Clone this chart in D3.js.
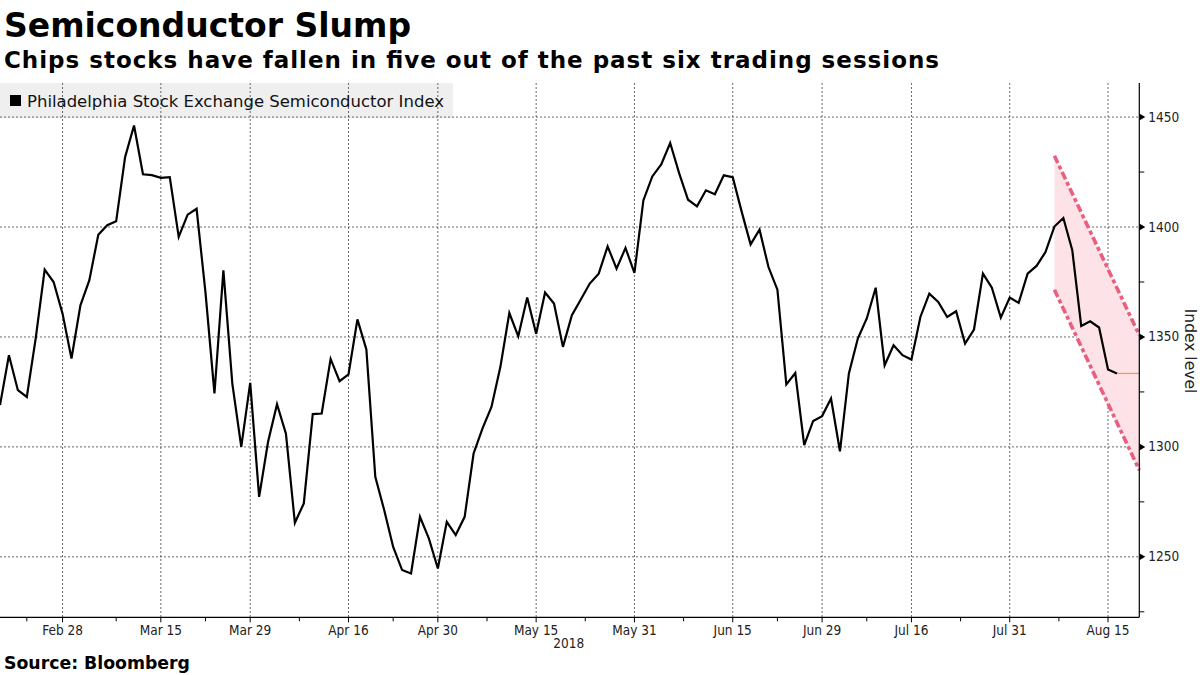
<!DOCTYPE html>
<html><head><meta charset="utf-8">
<script src="https://cdn.jsdelivr.net/npm/d3@7"></script>
<style>body{margin:0;background:#fff}svg{display:block}</style></head><body>
<svg id="c" width="1200" height="675"></svg>
<script>
const tradingDates = [
"2018-02-16","2018-02-20","2018-02-21","2018-02-22","2018-02-23","2018-02-26","2018-02-27","2018-02-28",
"2018-03-01","2018-03-02","2018-03-05","2018-03-06","2018-03-07","2018-03-08","2018-03-09","2018-03-12","2018-03-13","2018-03-14","2018-03-15","2018-03-16","2018-03-19","2018-03-20","2018-03-21","2018-03-22","2018-03-23","2018-03-26","2018-03-27","2018-03-28","2018-03-29",
"2018-04-02","2018-04-03","2018-04-04","2018-04-05","2018-04-06","2018-04-09","2018-04-10","2018-04-11","2018-04-12","2018-04-13","2018-04-16","2018-04-17","2018-04-18","2018-04-19","2018-04-20","2018-04-23","2018-04-24","2018-04-25","2018-04-26","2018-04-27","2018-04-30",
"2018-05-01","2018-05-02","2018-05-03","2018-05-04","2018-05-07","2018-05-08","2018-05-09","2018-05-10","2018-05-11","2018-05-14","2018-05-15","2018-05-16","2018-05-17","2018-05-18","2018-05-21","2018-05-22","2018-05-23","2018-05-24","2018-05-25","2018-05-29","2018-05-30","2018-05-31",
"2018-06-01","2018-06-04","2018-06-05","2018-06-06","2018-06-07","2018-06-08","2018-06-11","2018-06-12","2018-06-13","2018-06-14","2018-06-15","2018-06-18","2018-06-19","2018-06-20","2018-06-21","2018-06-22","2018-06-25","2018-06-26","2018-06-27","2018-06-28","2018-06-29",
"2018-07-02","2018-07-03","2018-07-05","2018-07-06","2018-07-09","2018-07-10","2018-07-11","2018-07-12","2018-07-13","2018-07-16","2018-07-17","2018-07-18","2018-07-19","2018-07-20","2018-07-23","2018-07-24","2018-07-25","2018-07-26","2018-07-27","2018-07-30","2018-07-31",
"2018-08-01","2018-08-02","2018-08-03","2018-08-06","2018-08-07","2018-08-08","2018-08-09","2018-08-10","2018-08-13","2018-08-14","2018-08-15","2018-08-16"
];
const indexValues = [
1319,1341.7,1325.8,1322.7,1349.5,1380.6,1375,1360.6,
1340.2,1364.4,1375.8,1396.5,1400.8,1402.6,1431.8,1446.2,1424,1423.6,1422.4,1422.7,1395.5,1405.6,1408.3,1370,1324.3,1380.3,1328.8,1300,1329.1,
1277.3,1302.3,1319.4,1306,1265.5,1274.3,1314.9,1315.2,1340,1329.9,1333,1358,1344.3,1286.4,1271.2,1254.5,1244,1242.4,1268.2,1258.3,1244.7,
1265.9,1259.9,1268.2,1297,1308.4,1318.2,1336.4,1360.9,1350.3,1367.9,1351.5,1370.2,1365.2,1345.5,1359.9,1367,1374.3,1378.8,1391.2,1381.1,1390.5,1379.1,
1412.1,1423,1428.5,1438.2,1424.5,1412.4,1409.4,1416.7,1414.9,1423.5,1422.7,1407,1392.1,1398.8,1381.8,1371.5,1328.4,1333.6,1300.8,1311.8,1314,
1322,1298,1333.4,1349.3,1358.4,1372.4,1337.1,1346.2,1341.7,1339.7,1359.1,1369.7,1365.9,1359.1,1361.7,1347,1353.4,1378.8,1372.4,1358.8,1367.9,
1365.5,1378.8,1382.3,1388.6,1400.2,1404.1,1389.4,1355,1357.1,1354.3,1335.2,1333.4
];
const tickDates = ["2018-02-28","2018-03-15","2018-03-29","2018-04-16","2018-04-30","2018-05-15","2018-05-31","2018-06-15","2018-06-29","2018-07-16","2018-07-31","2018-08-15"];
const tickLabels = ["Feb 28","Mar 15","Mar 29","Apr 16","Apr 30","May 15","May 31","Jun 15","Jun 29","Jul 16","Jul 31","Aug 15"];
const minorTickSessions = [3,13,23,33.5,44,54.5,65.5,76.5,87,97,107.5,118.5];
const yTicks = [1250,1300,1350,1400,1450];
const yMinorTicks = [1225,1275,1325,1375,1425];
const channelStartDate = "2018-08-07";
const channelUpper = [1432.4, 1350.8];
const channelLower = [1371.5, 1289.4];
const seriesName = "Philadelphia Stock Exchange Semiconductor Index";

const svg = d3.select("#c");
const L = 0, R = 1139.3, T = 83, B = 617.3;
const xMax = 127.5;
const x = d3.scaleLinear().domain([0, xMax]).range([L, R]);
const y = d3.scaleLinear().domain([1222.5, 1465.5]).range([B, T]);
const idx = d => tradingDates.indexOf(d);
const labFont = "DejaVu Sans Condensed, DejaVu Sans";

// Title
svg.append("text").attr("x",4).attr("y",37).attr("font-family","DejaVu Sans").attr("font-weight","bold")
  .attr("font-size",33).attr("fill","#000").text("Semiconductor Slump");
svg.append("text").attr("x",4).attr("y",68).attr("font-family","DejaVu Sans").attr("font-weight","bold")
  .attr("font-size",23).attr("textLength",935).attr("lengthAdjust","spacing").attr("fill","#000")
  .text("Chips stocks have fallen in five out of the past six trading sessions");

// Legend box
svg.append("rect").attr("x",0).attr("y",83).attr("width",453).attr("height",35).attr("fill","#efefef");

// Grid
const grid = svg.append("g").attr("stroke","#444").attr("stroke-width",0.8).attr("stroke-dasharray","2,2");
grid.selectAll(".h").data(yTicks).join("line").attr("x1",L).attr("x2",R).attr("y1",d=>y(d)).attr("y2",d=>y(d));
grid.selectAll(".v").data(tickDates).join("line").attr("x1",d=>x(idx(d))).attr("x2",d=>x(idx(d))).attr("y1",T).attr("y2",B);

// Legend text
svg.append("rect").attr("x",10).attr("y",95).attr("width",11).attr("height",11).attr("fill","#000");
svg.append("text").attr("x",27).attr("y",107).attr("font-family","DejaVu Sans").attr("font-size",16.5)
  .attr("textLength",417).attr("lengthAdjust","spacingAndGlyphs")
  .attr("fill","#111").text(seriesName);

// Channel
const c0 = idx(channelStartDate);
const chanArea = d3.area().x(d=>x(d.i)).y0(d=>y(d.lo)).y1(d=>y(d.hi));
const chanData = [{i:c0, hi:channelUpper[0], lo:channelLower[0]},{i:xMax, hi:channelUpper[1], lo:channelLower[1]}];
svg.append("path").attr("d",chanArea(chanData)).attr("fill","#fde3e8");

// Main line
const line = d3.line().x((d,i)=>x(i)).y(d=>y(d));
svg.append("path").attr("d",line(indexValues)).attr("fill","none").attr("stroke","#000").attr("stroke-width",2.2).attr("stroke-linejoin","miter");

// Last value line
const lastI = indexValues.length-1;
svg.append("line").attr("x1",x(lastI)).attr("x2",x(xMax)).attr("y1",y(indexValues[lastI])).attr("y2",y(indexValues[lastI]))
  .attr("stroke","#e8a050").attr("stroke-width",1.3);

// Channel dashed lines
const cl = d3.line().x(d=>x(d.i)).y(d=>y(d.v));
[channelUpper, channelLower].forEach(arr=>{
  svg.append("path").attr("d",cl([{i:c0,v:arr[0]},{i:xMax,v:arr[1]}])).attr("fill","none")
    .attr("stroke","#e8607e").attr("stroke-width",3.6).attr("stroke-dasharray","8,3,4,3");
});

// Axes
svg.append("line").attr("x1",L).attr("x2",R).attr("y1",B).attr("y2",B).attr("stroke","#000").attr("stroke-width",1.2);
svg.append("line").attr("x1",R).attr("x2",R).attr("y1",T).attr("y2",B).attr("stroke","#000").attr("stroke-width",1.2);

// X ticks
const xt = svg.append("g");
xt.selectAll(".mt").data(minorTickSessions).join("line").attr("x1",d=>x(d)).attr("x2",d=>x(d)).attr("y1",B).attr("y2",B+4).attr("stroke","#000");
xt.selectAll(".Mt").data(tickDates).join("line").attr("x1",d=>x(idx(d))).attr("x2",d=>x(idx(d))).attr("y1",B).attr("y2",B+5).attr("stroke","#000");
xt.selectAll("text").data(tickDates).join("text").attr("x",d=>x(idx(d))).attr("y",635).attr("text-anchor","middle")
  .attr("font-family",labFont).attr("font-size",13.5).attr("fill","#222").text((d,i)=>tickLabels[i]);
svg.append("text").attr("x",x(idx("2018-05-15"))+48).attr("y",648).attr("text-anchor","end")
  .attr("font-family",labFont).attr("font-size",13.5).attr("fill","#222").text("2018");

// Y ticks
const yt = svg.append("g");
yt.selectAll(".mt").data(yMinorTicks).join("line").attr("x1",R).attr("x2",R+5).attr("y1",d=>y(d)).attr("y2",d=>y(d)).attr("stroke","#000");
yt.selectAll("path").data(yTicks).join("path").attr("d",d=>`M${R},${y(d)-3.5}L${R+6},${y(d)}L${R},${y(d)+3.5}Z`).attr("fill","#000");
yt.selectAll("text").data(yTicks).join("text").attr("x",R+9).attr("y",d=>y(d)+4.5)
  .attr("font-family",labFont).attr("font-size",13.5).attr("fill","#222").text(d=>d);
svg.append("text").attr("transform",`translate(1185,351) rotate(90)`).attr("text-anchor","middle")
  .attr("font-family","DejaVu Sans").attr("font-size",15.5).attr("fill","#222").text("Index level");

// Source
svg.append("text").attr("x",4).attr("y",669).attr("font-family","DejaVu Sans").attr("font-weight","bold")
  .attr("font-size",17).attr("textLength",186).attr("lengthAdjust","spacingAndGlyphs").attr("fill","#000").text("Source: Bloomberg");
</script></body></html>
